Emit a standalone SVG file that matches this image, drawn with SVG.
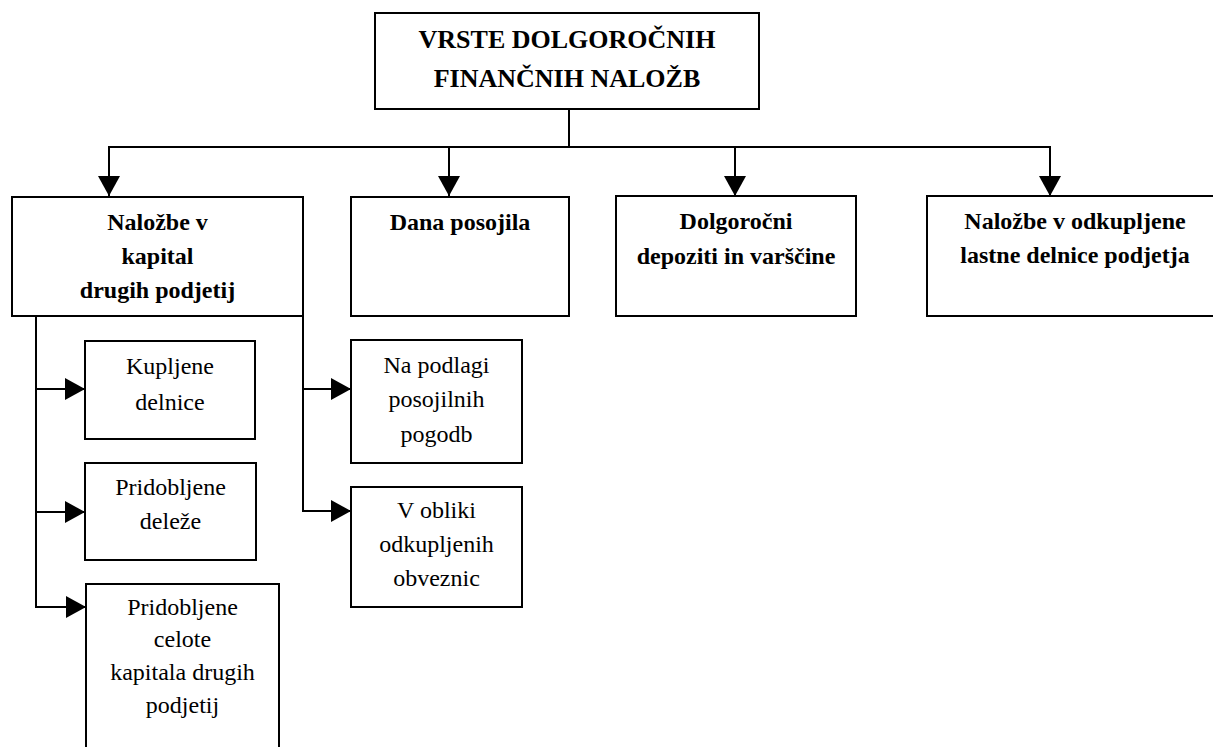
<svg xmlns="http://www.w3.org/2000/svg" width="1213" height="747" viewBox="0 0 1213 747">
<defs>
<style>
.box{fill:#fff;stroke:#000;stroke-width:2}
.ln{fill:none;stroke:#000;stroke-width:2}
.t1{font-family:"Liberation Serif","Times New Roman",serif;font-weight:bold;font-size:26px;text-anchor:middle;fill:#000}
.t2{font-family:"Liberation Serif","Times New Roman",serif;font-weight:bold;font-size:24px;text-anchor:middle;fill:#000}
.t3{font-family:"Liberation Serif","Times New Roman",serif;font-size:24px;text-anchor:middle;fill:#000}
</style>
<marker id="ah" markerUnits="userSpaceOnUse" markerWidth="21" markerHeight="22" refX="20" refY="11" orient="auto">
<path d="M0,0 L20,11 L0,22 Z" fill="#000"/>
</marker>
</defs>
<rect width="1213" height="747" fill="#fff"/>
<g id="connectors">
<line class="ln" x1="569" y1="109" x2="569" y2="147"/>
<line class="ln" x1="108" y1="147" x2="1051" y2="147"/>
<line class="ln" x1="109" y1="147" x2="109" y2="196" marker-end="url(#ah)"/>
<line class="ln" x1="449" y1="147" x2="449" y2="196" marker-end="url(#ah)"/>
<line class="ln" x1="735" y1="147" x2="735" y2="196" marker-end="url(#ah)"/>
<line class="ln" x1="1050" y1="147" x2="1050" y2="196" marker-end="url(#ah)"/>
<polyline class="ln" points="36,316 36,607"/>
<line class="ln" x1="35" y1="389" x2="85" y2="389" marker-end="url(#ah)"/>
<line class="ln" x1="35" y1="512" x2="85" y2="512" marker-end="url(#ah)"/>
<line class="ln" x1="35" y1="607" x2="86" y2="607" marker-end="url(#ah)"/>
<polyline class="ln" points="303,316 303,511"/>
<line class="ln" x1="302" y1="389" x2="351" y2="389" marker-end="url(#ah)"/>
<line class="ln" x1="302" y1="511" x2="351" y2="511" marker-end="url(#ah)"/>
</g>
<g id="root">
<rect class="box" x="375" y="13" width="384" height="96"/>
<text class="t1" x="567" y="48">VRSTE DOLGOROČNIH</text>
<text class="t1" x="567" y="87">FINANČNIH NALOŽB</text>
</g>
<g id="kapital">
<rect class="box" x="12" y="197" width="291" height="119"/>
<text class="t2" x="157.5" y="230">Naložbe v</text>
<text class="t2" x="157.5" y="264">kapital</text>
<text class="t2" x="157.5" y="298">drugih podjetij</text>
</g>
<g id="posojila">
<rect class="box" x="351" y="197" width="218" height="119"/>
<text class="t2" x="460" y="230">Dana posojila</text>
</g>
<g id="depoziti">
<rect class="box" x="616" y="196" width="240" height="120"/>
<text class="t2" x="736" y="229">Dolgoročni</text>
<text class="t2" x="736" y="264">depoziti in varščine</text>
</g>
<g id="lastne">
<rect class="box" x="927" y="196" width="296" height="120"/>
<text class="t2" x="1075" y="229">Naložbe v odkupljene</text>
<text class="t2" x="1075" y="263">lastne delnice podjetja</text>
</g>
<g id="kupljene">
<rect class="box" x="85" y="341" width="170" height="98"/>
<text class="t3" x="170" y="374">Kupljene</text>
<text class="t3" x="170" y="410">delnice</text>
</g>
<g id="delezi">
<rect class="box" x="85" y="463" width="171" height="97"/>
<text class="t3" x="170.5" y="495">Pridobljene</text>
<text class="t3" x="170.5" y="529">deleže</text>
</g>
<g id="celote">
<rect class="box" x="86" y="584" width="193" height="180"/>
<text class="t3" x="182.5" y="615">Pridobljene</text>
<text class="t3" x="182.5" y="647">celote</text>
<text class="t3" x="182.5" y="680">kapitala drugih</text>
<text class="t3" x="182.5" y="713">podjetij</text>
</g>
<g id="pogodbe">
<rect class="box" x="351" y="340" width="171" height="123"/>
<text class="t3" x="436.5" y="373">Na podlagi</text>
<text class="t3" x="436.5" y="407">posojilnih</text>
<text class="t3" x="436.5" y="442">pogodb</text>
</g>
<g id="obveznice">
<rect class="box" x="351" y="487" width="171" height="120"/>
<text class="t3" x="436.5" y="518">V obliki</text>
<text class="t3" x="436.5" y="552">odkupljenih</text>
<text class="t3" x="436.5" y="586">obveznic</text>
</g>
</svg>
